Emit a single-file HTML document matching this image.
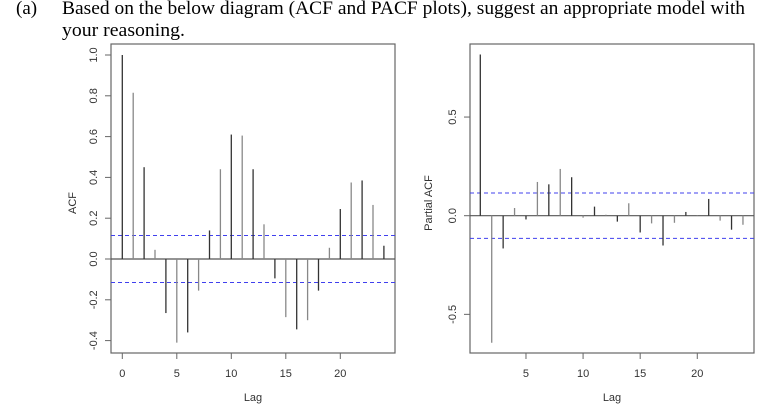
<!DOCTYPE html>
<html><head><meta charset="utf-8"><style>
body{margin:0;background:#fff;width:780px;height:406px;overflow:hidden}
</style></head><body>
<svg id="svg" width="780" height="406" xmlns="http://www.w3.org/2000/svg">
<g font-family="'Liberation Serif',serif" font-size="19" fill="#000">
<text x="16" y="14">(a)</text>
<text x="62" y="14" textLength="683" lengthAdjust="spacingAndGlyphs">Based on the below diagram (ACF and PACF plots), suggest an appropriate model with</text>
<text x="62" y="36" textLength="123" lengthAdjust="spacingAndGlyphs">your reasoning.</text>
</g>
<g id="acf"></g>
<g id="pacf"></g>
</svg>
<script>
const acfLags=[0,1,2,3,4,5,6,7,8,9,10,11,12,13,14,15,16,17,18,19,20,21,22,23,24];
const acfValues=[1.0,0.815,0.45,0.045,-0.265,-0.41,-0.36,-0.155,0.14,0.44,0.61,0.605,0.44,0.17,-0.095,-0.285,-0.345,-0.30,-0.155,0.055,0.245,0.375,0.385,0.265,0.065];
const acfYTicks=[-0.4,-0.2,0.0,0.2,0.4,0.6,0.8,1.0];
const acfYTickLabels=["-0.4","-0.2","0.0","0.2","0.4","0.6","0.8","1.0"];
const acfXTicks=[0,5,10,15,20];
const pacfLags=[1,2,3,4,5,6,7,8,9,10,11,12,13,14,15,16,17,18,19,20,21,22,23,24];
const pacfValues=[0.817,-0.644,-0.166,0.039,-0.019,0.171,0.159,0.237,0.195,-0.01,0.046,0.005,-0.03,0.063,-0.085,-0.039,-0.151,-0.036,0.019,0.003,0.085,-0.025,-0.071,-0.046];
const pacfYTicks=[-0.5,0.0,0.5];
const pacfYTickLabels=["-0.5","0.0","0.5"];
const pacfXTicks=[5,10,15,20];
const confBound=[0.115];
const NS='http://www.w3.org/2000/svg';
function mk(p,tag,a){const e=document.createElementNS(NS,tag);for(const k in a)e.setAttribute(k,a[k]);p.appendChild(e);return e;}
function draw(g,o){
  const xs=v=>o.x0+(v-o.l0)*o.lx, ys=v=>o.y0-v*o.ly;
  const box=mk(g,'rect',{x:o.bx1,y:44,width:o.bx2-o.bx1,height:309,fill:'none',stroke:'#666','stroke-width':1.2});
  
  
  const z=mk(g,'line',{x1:o.bx1,x2:o.bx2,y1:ys(0),y2:ys(0),stroke:'#555','stroke-width':1.2});
  
  
  [confBound[0],-confBound[0]].forEach((c,i)=>{
    const l=mk(g,'line',{x1:o.bx1,x2:o.bx2,y1:ys(c),y2:ys(c),stroke:'#4040ee','stroke-width':1,'stroke-dasharray':'4,3'});
    
    
  });
  o.lags.forEach((lag,i)=>{
    const b=mk(g,'line',{x1:xs(lag),x2:xs(lag),y1:ys(0),y2:ys(o.vals[i]),stroke:i%2?'#888':'#333','stroke-width':1.3});
    
    
  });
  o.xt.forEach(t=>{
    mk(g,'line',{x1:xs(t),x2:xs(t),y1:353,y2:359,stroke:'#666'});
    const tx=mk(g,'text',{x:xs(t),y:377,'text-anchor':'middle','font-size':11,'font-family':'Liberation Sans,sans-serif',fill:'#333'});
    tx.textContent=t;
    
    
  });
  o.yt.forEach((t,i)=>{
    mk(g,'line',{x1:o.bx1-6,x2:o.bx1,y1:ys(t),y2:ys(t),stroke:'#666'});
    const tx=mk(g,'text',{x:0,y:0,'text-anchor':'middle','font-size':11,'font-family':'Liberation Sans,sans-serif',fill:'#333',transform:`translate(${o.bx1-14},${ys(t)}) rotate(-90)`});
    tx.textContent=o.ytl[i];
    
    
  });
  const xl=mk(g,'text',{x:(o.bx1+o.bx2)/2,y:401,'text-anchor':'middle','font-size':11,'font-family':'Liberation Sans,sans-serif',fill:'#333'});
  xl.textContent='Lag';
  
  
  const yl=mk(g,'text',{x:0,y:0,'text-anchor':'middle','font-size':11,'font-family':'Liberation Sans,sans-serif',fill:'#333',transform:`translate(${o.ylx},203) rotate(-90)`});
  yl.textContent=o.ylab;
  
  
}
draw(document.getElementById('acf'),{bx1:111,bx2:395,x0:122.3,l0:0,lx:10.9,y0:259,ly:204,lags:acfLags,vals:acfValues,xt:acfXTicks,yt:acfYTicks,ytl:acfYTickLabels,ylab:'ACF',ylx:76});
draw(document.getElementById('pacf'),{bx1:470,bx2:754,x0:480.3,l0:1,lx:11.42,y0:215.7,ly:197.3,lags:pacfLags,vals:pacfValues,xt:pacfXTicks,yt:pacfYTicks,ytl:pacfYTickLabels,ylab:'Partial ACF',ylx:432});
</script>
</body></html>
